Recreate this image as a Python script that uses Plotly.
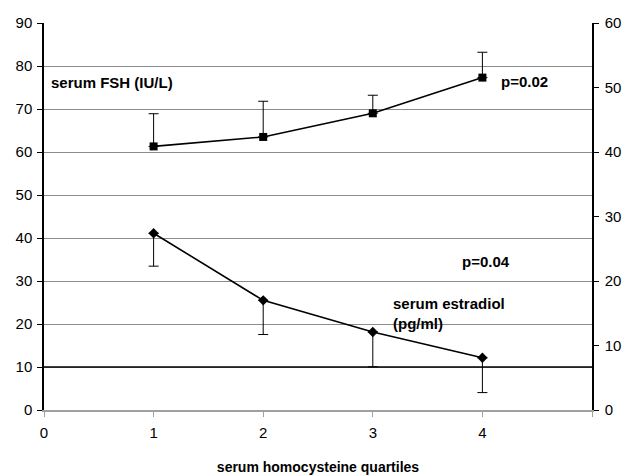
import plotly.graph_objects as go

quartiles = [1, 2, 3, 4]
fsh = [61.3, 63.5, 69.0, 77.3]          # IU/L, left axis
fsh_err = [7.6, 8.3, 4.2, 5.9]
estradiol = [27.4, 17.0, 12.1, 8.1]      # pg/ml, right axis
estradiol_err = [5.1, 5.3, 5.4, 5.4]
x_ticks = [0, 1, 2, 3, 4, 5]
x_ticklabels = ["0", "1", "2", "3", "4", ""]
left_ticks = [0, 10, 20, 30, 40, 50, 60, 70, 80, 90]
right_ticks = [0, 10, 20, 30, 40, 50, 60]

FONT = "Liberation Sans, Arial, sans-serif"

fig = go.Figure()
fig.add_trace(go.Scatter(
    x=quartiles, y=fsh, mode="lines+markers",
    line=dict(color="black", width=1.6),
    marker=dict(symbol="square", size=8, color="black"),
    error_y=dict(type="data", symmetric=False, array=fsh_err,
                 arrayminus=[0] * 4, color="black", thickness=1, width=5),
    yaxis="y", showlegend=False, hoverinfo="skip"))
fig.add_trace(go.Scatter(
    x=quartiles, y=estradiol, mode="lines+markers",
    line=dict(color="black", width=1.6),
    marker=dict(symbol="diamond", size=8, color="black"),
    error_y=dict(type="data", symmetric=False, array=[0] * 4,
                 arrayminus=estradiol_err, color="black", thickness=1, width=5),
    yaxis="y2", showlegend=False, hoverinfo="skip"))

# emphasised horizontal line at 10 on the left scale
fig.add_shape(type="line", xref="paper", x0=0, x1=1, yref="y", y0=10, y1=10,
              line=dict(color="black", width=1.5), layer="above")

fig.update_layout(
    width=627, height=475,
    margin=dict(l=44, r=35, t=23, b=65),
    paper_bgcolor="white", plot_bgcolor="white",
    font=dict(family=FONT, color="black", size=14),
    xaxis=dict(range=[0, 5], tickvals=x_ticks, ticktext=x_ticklabels,
               showgrid=False, zeroline=False, showline=True,
               linecolor="#a0a0a0", linewidth=2, automargin=False,
               ticks="outside", ticklen=5, tickcolor="#a0a0a0",
               tickfont=dict(size=15), ticklabelstandoff=3,
               title=dict(text="<b>serum homocysteine quartiles</b>",
                          font=dict(size=14), standoff=22)),
    yaxis=dict(range=[0, 90], tickvals=left_ticks, showgrid=True,
               gridcolor="#8c8c8c", gridwidth=1, zeroline=False,
               showline=True, linecolor="black", linewidth=1.5,
               automargin=False,
               ticks="outside", ticklen=5, tickcolor="black",
               tickfont=dict(size=15), ticklabelstandoff=2),
    yaxis2=dict(range=[0, 60], tickvals=right_ticks, overlaying="y",
                side="right", showgrid=False, zeroline=False,
                showline=True, linecolor="black", linewidth=1.5,
                automargin=False,
                ticks="outside", ticklen=5, tickcolor="black",
                tickfont=dict(size=15), ticklabelstandoff=3),
)

ann_font = dict(family=FONT, size=15, color="black")
fig.add_annotation(x=0.05, y=76.2, xref="x", yref="y", text="<b>serum FSH (IU/L)</b>",
                   showarrow=False, xanchor="left", font=ann_font)
fig.add_annotation(x=4.15, y=76.4, xref="x", yref="y", text="<b>p=0.02</b>",
                   showarrow=False, xanchor="left", font=ann_font)
fig.add_annotation(x=3.8, y=34.5, xref="x", yref="y", text="<b>p=0.04</b>",
                   showarrow=False, xanchor="left", font=ann_font)
fig.add_annotation(x=3.17, y=22.5, xref="x", yref="y",
                   text="<b>serum estradiol<br>(pg/ml)</b>", align="left",
                   showarrow=False, xanchor="left", font=ann_font)

fig.write_html("out.html", config={"displayModeBar": False},
               post_script="document.body.style.margin='0';document.body.style.overflow='hidden';")
